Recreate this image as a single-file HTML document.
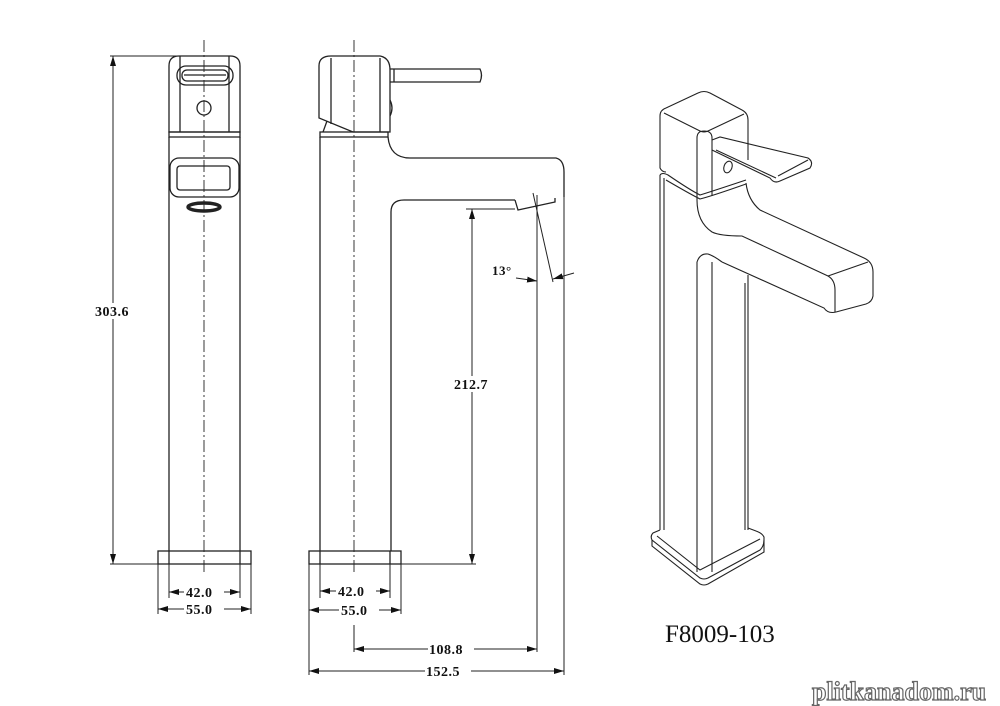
<!DOCTYPE html>
<html><head><meta charset="utf-8"><style>
html,body{margin:0;padding:0;background:#fff;}
svg{display:block}
text{font-family:"Liberation Serif",serif;fill:#111}
</style></head><body>
<svg width="1000" height="706" viewBox="0 0 1000 706" xmlns="http://www.w3.org/2000/svg">
<defs>
<marker id="a" viewBox="0 0 10 6" refX="10" refY="3" markerWidth="10" markerHeight="6" orient="auto-start-reverse" markerUnits="userSpaceOnUse"><path d="M0,0 L10,3 L0,6 z" fill="#111"/></marker>
</defs>
<g fill="none" stroke="#222" stroke-width="1.3">
<!-- LEFT FRONT VIEW -->
<path d="M169,132 L169,66 Q169,56 179,56 L230,56 Q240,56 240,66 L240,132 Z"/>
<line x1="180" y1="56" x2="180" y2="132"/><line x1="229" y1="56" x2="229" y2="132"/>
<rect x="177" y="66" width="56" height="19" rx="9"/>
<rect x="182" y="70" width="46" height="11" rx="5"/>
<line x1="184" y1="75" x2="226" y2="75"/>
<circle cx="204" cy="108" r="7"/>
<rect x="169" y="132" width="71" height="5"/>
<line x1="169" y1="137" x2="169" y2="551"/><line x1="240" y1="137" x2="240" y2="551"/>
<rect x="170" y="158" width="69" height="39" rx="9"/>
<rect x="177" y="166" width="53" height="24" rx="3"/>
<ellipse cx="204" cy="207" rx="16" ry="4" stroke-width="3.5"/>
<rect x="158" y="551" width="93" height="13"/>
<line x1="169" y1="551" x2="169" y2="564"/><line x1="240" y1="551" x2="240" y2="564"/>
<line x1="204" y1="40" x2="204" y2="575" stroke-dasharray="12,3,2,3" stroke-width="0.9"/>
<!-- 303.6 -->
<line x1="110" y1="56" x2="180" y2="56" stroke-width="1"/>
<line x1="110" y1="564" x2="158" y2="564" stroke-width="1"/>
<line x1="113" y1="56" x2="113" y2="564" stroke-width="1" marker-start="url(#a)" marker-end="url(#a)"/>
<line x1="169" y1="564" x2="169" y2="598" stroke-width="1"/><line x1="240" y1="564" x2="240" y2="598" stroke-width="1"/>
<line x1="158" y1="564" x2="158" y2="614" stroke-width="1"/><line x1="251" y1="564" x2="251" y2="614" stroke-width="1"/>
<line x1="169" y1="592" x2="240" y2="592" stroke-width="1" marker-start="url(#a)" marker-end="url(#a)"/>
<line x1="158" y1="609" x2="251" y2="609" stroke-width="1" marker-start="url(#a)" marker-end="url(#a)"/>

<!-- SIDE VIEW -->
<path d="M319,118 L319,66 Q319,56 331,56 L380,56 Q390,58 390,70 L390,132 L353,132 Z"/>
<line x1="331" y1="58" x2="331" y2="124"/><line x1="380" y1="58" x2="380" y2="132"/>
<path d="M390,69 L480,69 Q483,75 480,82 L390,82"/>
<line x1="394" y1="69" x2="394" y2="82"/>
<path d="M390,100 Q394,108 390,116"/>
<path d="M327,121 L323,132"/>
<rect x="320" y="132" width="68" height="5"/>
<line x1="320" y1="137" x2="320" y2="551"/>
<path d="M388,137 Q390,158 410,158 L556,158 Q564,160 564,172 L564,197"/>
<path d="M391,551 L391,212 Q391,200 404,200 L515,200"/>
<path d="M515,200 L518,210 L555,202 L555,198"/>
<rect x="309" y="551" width="92" height="13"/>
<line x1="320" y1="551" x2="320" y2="564"/><line x1="390" y1="551" x2="390" y2="564"/>
<line x1="354" y1="40" x2="354" y2="575" stroke-dasharray="12,3,2,3" stroke-width="0.9"/>
<line x1="354" y1="625" x2="354" y2="652" stroke-width="1"/>
<!-- 212.7 -->
<line x1="466" y1="209" x2="515" y2="209" stroke-width="1"/>
<line x1="401" y1="564" x2="476" y2="564" stroke-width="1"/>
<line x1="472" y1="209" x2="472" y2="564" stroke-width="1" marker-start="url(#a)" marker-end="url(#a)"/>
<line x1="537" y1="195" x2="537" y2="652" stroke-width="1"/>
<line x1="564" y1="197" x2="564" y2="675" stroke-width="1"/>
<line x1="533" y1="193" x2="553" y2="282" stroke-width="1"/>
<line x1="516" y1="278" x2="537" y2="281" stroke-width="1" marker-end="url(#a)"/>
<line x1="574" y1="273" x2="553" y2="279" stroke-width="1" marker-end="url(#a)"/>
<line x1="320" y1="564" x2="320" y2="598" stroke-width="1"/><line x1="390" y1="564" x2="390" y2="598" stroke-width="1"/>
<line x1="309" y1="564" x2="309" y2="675" stroke-width="1"/><line x1="401" y1="564" x2="401" y2="614" stroke-width="1"/>
<line x1="320" y1="591" x2="390" y2="591" stroke-width="1" marker-start="url(#a)" marker-end="url(#a)"/>
<line x1="309" y1="610" x2="401" y2="610" stroke-width="1" marker-start="url(#a)" marker-end="url(#a)"/>
<line x1="354" y1="649" x2="537" y2="649" stroke-width="1" marker-start="url(#a)" marker-end="url(#a)"/>
<line x1="309" y1="671" x2="564" y2="671" stroke-width="1" marker-start="url(#a)" marker-end="url(#a)"/>

<!-- ISO VIEW -->
<g stroke-width="1.1">
<path d="M660,116 Q660,110 666,108 L698,93 Q704,90 710,93 L742,110 Q748,113 748,120 L748,160"/>
<path d="M664,113 L700,131 Q704,133 708,131 L744,114"/>
<path d="M660,116 L660,168 Q662,172 666,172"/>
<path d="M697,138 Q697,131 704,131 Q712,131 712,138"/>
<line x1="697" y1="138" x2="697" y2="200"/><line x1="712" y1="138" x2="712" y2="196"/>
<path d="M660,175 L660,530"/><path d="M664,178 L664,530"/>
<path d="M660,175 Q662,172 668,175 Q690,190 700,195 Q710,192 746,180"/>
<path d="M666,180 Q690,194 700,199 Q712,196 746,184"/>
<path d="M712,140 L720,137 L808,158 Q814,162 810,168 L780,181 Q774,184 770,178 L712,150"/>
<path d="M716,150 L776,178"/><path d="M808,160 L778,176"/>
<ellipse cx="728" cy="167" rx="4" ry="6" transform="rotate(20 728 167)"/>
<path d="M746,183 Q748,200 760,210 L864,258 Q873,262 873,272 L873,296 Q872,302 866,304 L836,312 Q828,314 824,308 L722,262"/>
<path d="M697,200 Q697,222 712,232 Q720,236 742,236 L828,276 Q835,280 835,290 L835,312"/>
<path d="M828,276 L868,262"/>
<path d="M697,262 Q700,253 708,254 Q714,256 722,262"/>
<line x1="748" y1="275" x2="748" y2="530"/><line x1="745" y1="283" x2="745" y2="530"/>
<path d="M660,530 L653,533 Q650,536 652,540 L700,578 Q704,580 708,578 L760,550 Q764,546 764,540 L764,537 Q762,533 756,531 L748,528"/>
<path d="M652,540 L652,546 L700,584 Q704,586 708,584 L764,552 L764,540"/>
<path d="M657,536 L700,570 L760,539"/>
<line x1="697" y1="262" x2="697" y2="572"/><line x1="712" y1="262" x2="712" y2="572"/>
</g>
</g>
<g font-size="14" font-weight="bold" style="letter-spacing:0.5px">
<rect x="95" y="303" width="36" height="16" fill="#fff"/>
<text x="95" y="316">303.6</text>
<rect x="184" y="585" width="40" height="14" fill="#fff"/>
<text x="186" y="597">42.0</text>
<rect x="184" y="602" width="40" height="14" fill="#fff"/>
<text x="186" y="614">55.0</text>
<rect x="336" y="584" width="40" height="14" fill="#fff"/>
<text x="338" y="596">42.0</text>
<rect x="339" y="603" width="40" height="14" fill="#fff"/>
<text x="341" y="615">55.0</text>
<rect x="453" y="376" width="40" height="16" fill="#fff"/>
<text x="454" y="389">212.7</text>
<text x="492" y="275" font-size="13">13°</text>
<rect x="428" y="641" width="46" height="16" fill="#fff"/>
<text x="429" y="654">108.8</text>
<rect x="425" y="663" width="46" height="16" fill="#fff"/>
<text x="426" y="676">152.5</text>
</g>
<text x="665" y="642" font-size="25">F8009-103</text>
<text x="812" y="700" font-size="26" font-family="Liberation Sans,sans-serif" font-weight="bold" style="fill:#fff;stroke:#666;stroke-width:1.2">plitkanadom.ru</text>
</svg>
</body></html>
